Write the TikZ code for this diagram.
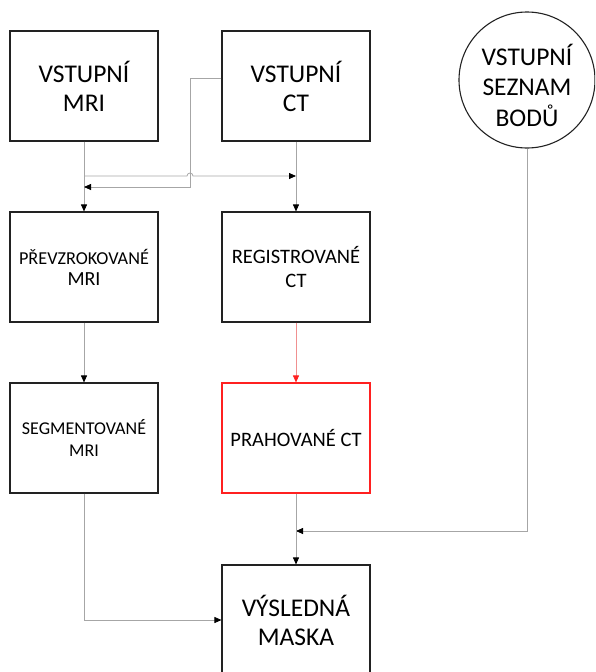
\documentclass[tikz,border=0pt]{standalone}
\usepackage{fontspec}
\setmainfont{Carlito}
\usetikzlibrary{arrows.meta}
\definecolor{boxline}{HTML}{222222}
\definecolor{connline}{HTML}{A6A6A6}
\definecolor{redbox}{HTML}{FF2020}
\definecolor{redline}{HTML}{F09090}
\begin{document}
\begin{tikzpicture}[x=1pt,y=-1pt,
  box/.style={draw=boxline, line width=1.1pt, minimum width=148pt, minimum height=110pt, inner sep=0pt, align=center, fill=white},
  bigtext/.style={font=\fontsize{25.5}{29}\selectfont},
  midtext/.style={font=\fontsize{20.5}{24}\selectfont},
  conn/.style={draw=connline, line width=0.8pt},
  tip/.style={-{Triangle[length=7pt,width=6pt,color=black]}},
  redtip/.style={-{Triangle[length=7pt,width=6pt,color=redbox]}}
]
\useasboundingbox (0,0) rectangle (595,672);
\begin{scope}
\clip (0,0) rectangle (595,672);
\node[box,bigtext] (mri) at (84,86) {VSTUPNÍ\\MRI};
\node[box,bigtext] (ct) at (296,86) {VSTUPNÍ\\CT};
\node[draw=boxline, line width=1.1pt, circle, minimum size=136pt, inner sep=0pt, align=center, bigtext] (pts) at (527,80) {\raisebox{-5pt}[\height][\depth]{\parbox{100pt}{\centering\baselineskip=30.5pt VSTUPNÍ\\SEZNAM\\BODŮ}}};
\node[box, font=\fontsize{18.2}{21}\selectfont] (prev) at (84,267) {PŘEVZROKOVANÉ\\{\fontsize{20}{21}\selectfont MRI}};
\node[box,midtext] (reg) at (296,267) {REGISTROVANÉ\\CT};
\node[box, font=\fontsize{18}{22}\selectfont] (seg) at (84,438) {SEGMENTOVANÉ\\MRI};
\node[box,midtext,draw=redbox] (prah) at (296,438) {PRAHOVANÉ CT};
\node[box,bigtext] (mask) at (296,620) {VÝSLEDNÁ\\MASKA};

\coordinate (h1) at (84,176);
\coordinate (hopL) at (187,176);
\coordinate (h2) at (84,187);
\coordinate (bend) at (190,187);
\coordinate (r1) at (296,531);

\draw[conn,tip] (mri.south) -- (prev.north);
\draw[conn,tip] (h1) -- (hopL) arc[start angle=180,end angle=0,radius=3pt] -- (reg.north |- h1);
\draw[conn,tip] ([yshift=8pt]ct.west) -| (bend) -- (h2);
\draw[conn,tip] (ct.south) -- (reg.north);
\draw[conn,tip] (prev.south) -- (seg.north);
\draw[draw=redline, line width=0.8pt, redtip] (reg.south) -- (prah.north);
\draw[conn,tip] (pts.south) |- (r1);
\draw[conn,tip] (prah.south) -- (mask.north);
\draw[conn,tip] (seg.south) |- (mask.west);
\end{scope}
\end{tikzpicture}
\end{document}
